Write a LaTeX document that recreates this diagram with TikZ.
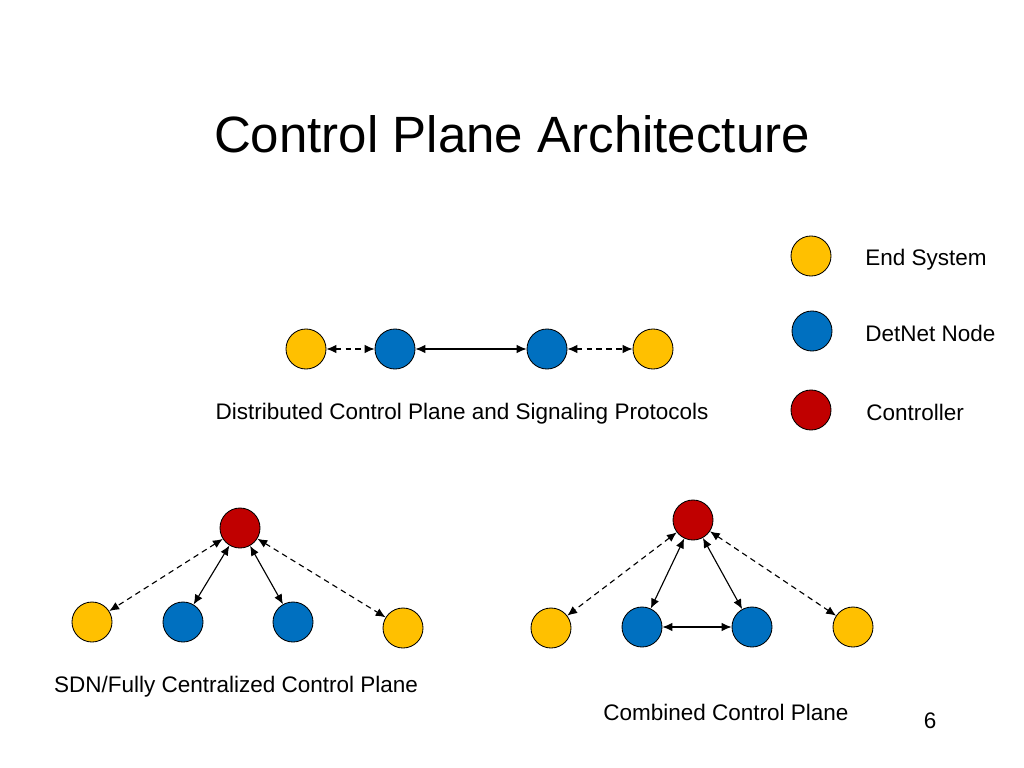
\documentclass[tikz,border=0pt]{standalone}
\usepackage{fontspec}
\setmainfont{Liberation Sans}
\usetikzlibrary{arrows.meta}

\definecolor{endsys}{HTML}{FFC000}
\definecolor{detnet}{HTML}{0070C0}
\definecolor{ctrl}{HTML}{C00000}

\tikzset{
  dev/.style={circle,draw=black,line width=0.6pt,minimum size=1cm,inner sep=0pt},
  es/.style={dev,fill=endsys},
  dn/.style={dev,fill=detnet},
  ct/.style={dev,fill=ctrl},
  link/.style={{Latex[length=7pt,width=6pt]}-{Latex[length=7pt,width=6pt]},line width=0.8pt},
  sig/.style={link,dash pattern=on 4pt off 3pt},
  lbl/.style={font=\fontsize{16}{18}\selectfont,inner sep=0pt}
}

\begin{document}
\begin{tikzpicture}[x=0.025cm,y=-0.025cm]
\useasboundingbox (0,0) rectangle (1024,768);

\node[font=\fontsize{36.3}{40}\selectfont] (title) at (512,134) {Control Plane Architecture};

% legend
\node[es] (lges) at (811,256) {};
\node[dn] (lgdn) at (812,331) {};
\node[ct] (lgct) at (811,410) {};
\node[lbl,anchor=west] (tes) at (865,260) {End System};
\node[lbl,anchor=west] (tdn) at (865,333) {DetNet Node};
\node[lbl,anchor=west] (tct) at (866,412) {Controller};

% distributed
\node[es] (da) at (306,349) {};
\node[dn] (db) at (395,349) {};
\node[dn] (dc) at (547,349) {};
\node[es] (dd) at (653,349) {};
\draw[sig] (da) -- (db);
\draw[link] (db) -- (dc);
\draw[sig] (dc) -- (dd);
\node[lbl] (tdist) at (462,414) {Distributed Control Plane and Signaling Protocols};

% centralized
\node[ct] (sc) at (240,528) {};
\node[es] (sa) at (92,622) {};
\node[dn] (sb) at (183,622) {};
\node[dn] (sd) at (293,622) {};
\node[es] (se) at (403,628) {};
\draw[sig] (sc) -- (sa);
\draw[link] (sc) -- (sb);
\draw[link] (sc) -- (sd);
\draw[sig] (sc) -- (se);
\node[lbl] (tsdn) at (236,687) {SDN/Fully Centralized Control Plane};

% combined
\node[ct] (cc) at (693,520) {};
\node[es] (ca) at (551,628) {};
\node[dn] (cb) at (642,627) {};
\node[dn] (cd) at (752,627) {};
\node[es] (ce) at (853,627) {};
\draw[sig] (cc) -- (ca);
\draw[link] (cc) -- (cb);
\draw[link] (cc) -- (cd);
\draw[link] (cb) -- (cd);
\draw[sig] (cc) -- (ce);
\node[lbl] (tcomb) at (726,712) {Combined Control Plane};

\node[lbl] (pg) at (930,721) {6};
\end{tikzpicture}
\end{document}
